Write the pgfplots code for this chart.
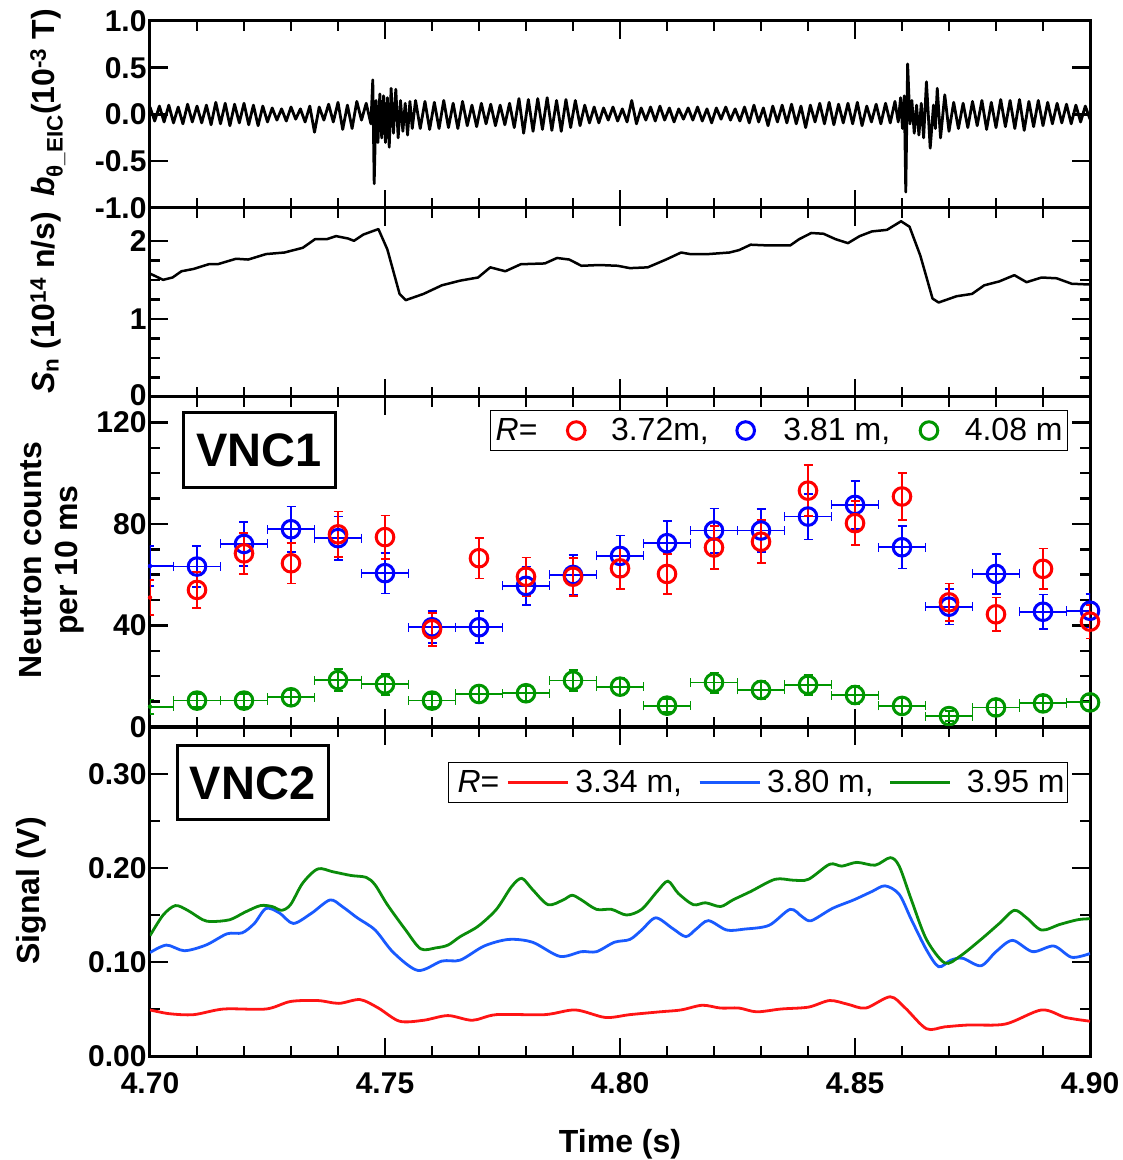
\documentclass[border=0pt]{standalone}
\usepackage{fontspec}
\setmainfont{Liberation Sans}
\usepackage{pgfplots}
\usepackage{pgfplotstable}
\pgfplotsset{compat=1.18}
\definecolor{cRed}{RGB}{255,0,0}
\definecolor{cBlue}{RGB}{0,0,255}
\definecolor{cGreen}{RGB}{0,150,0}
\definecolor{lRed}{RGB}{255,20,20}
\definecolor{lBlue}{RGB}{25,90,255}
\definecolor{lGreen}{RGB}{10,140,10}
\newcommand\lab{\fontsize{32}{38}\selectfont\bfseries}
\newcommand\tlab{\fontsize{30}{30}\selectfont\bfseries}
\pgfplotsset{
  myaxis/.style={
    scale only axis, width=940pt, anchor=south west,
    xmin=4.70, xmax=4.90,
    xtick={4.70,4.75,4.80,4.85,4.90}, minor x tick num=4,
    xticklabels={},
    axis line style={line width=3pt},
    major tick length=18pt, minor tick length=10pt,
    tick style={black, line width=2.5pt},
    tick label style={font=\tlab},
    xticklabel style={yshift=-13pt},
  },
  circleg/.style={legend image code/.code={\draw[##1] plot coordinates {(0pt,0pt)};}},
  lineleg/.style={legend image code/.code={\draw[##1] (0pt,0pt) -- (60pt,0pt);}},
  circmark/.style={only marks, mark=o, mark size=8.8pt, line width=3pt,
    mark options={line width=3pt}},
}
\pgfplotstableread{
x y ey
4.71 54.0 7
4.72 68.4 8
4.73 64.5 8
4.74 75.9 9
4.75 74.8 8.5
4.76 38.5 6.5
4.77 66.5 8
4.78 59.2 7.6
4.79 59.2 7.5
4.80 62.5 8
4.81 60.3 8
4.82 70.7 8.4
4.83 73.0 8.5
4.84 93.1 10
4.85 80.3 8.7
4.86 90.8 9.3
4.87 49.1 7.4
4.88 44.4 6.6
4.89 62.3 8
4.90 41.5 6.6
}\redtab
\pgfplotstableread{
x y ex ey
4.71 63.2 0.005 8
4.72 72.1 0.005 8.7
4.73 77.9 0.005 9
4.74 74.4 0.005 8.5
4.75 60.6 0.005 8
4.76 39.3 0.005 6.3
4.77 39.3 0.005 6.3
4.78 55.6 0.005 7.6
4.79 59.9 0.005 8
4.80 67.4 0.005 8
4.81 72.4 0.005 8.8
4.82 77.4 0.005 8.7
4.83 77.4 0.005 8.5
4.84 82.9 0.005 9
4.85 87.5 0.005 9.4
4.86 70.8 0.005 8.4
4.87 47.4 0.005 7
4.88 60.3 0.005 7.8
4.89 45.4 0.005 6.8
4.90 45.8 0.005 6.6
}\bluetab
\pgfplotstableread{
x y ex ey
4.71 10.4 0.005 2.5
4.72 10.4 0.005 2.5
4.73 11.7 0.005 2.8
4.74 18.5 0.005 4.2
4.75 16.8 0.005 4.1
4.76 10.4 0.005 2.5
4.77 13.0 0.005 3
4.78 13.3 0.005 3
4.79 18.3 0.005 4
4.80 15.9 0.005 3.5
4.81 8.4 0.005 2.5
4.82 17.5 0.005 4
4.83 14.6 0.005 3.7
4.84 16.6 0.005 4
4.85 12.6 0.005 3.5
4.86 8.3 0.005 3
4.87 4.3 0.005 2
4.88 7.7 0.005 3
4.89 9.3 0.005 3
4.90 9.7 0.005 3
}\greentab
\begin{document}
\begin{tikzpicture}
% ---------------- Panel 1 ----------------
\begin{axis}[myaxis, name=p1, at={(0pt,848pt)}, height=187pt,
  ymin=-1, ymax=1, ytick={-1,-0.5,0,0.5,1},
  yticklabels={-1.0,-0.5,0.0,0.5,1.0}]
\addplot[black, line width=2.8pt, line join=round] table {
4.700 0.08
4.701 -0.07
4.702 0.09
4.703 -0.08
4.704 0.10
4.705 -0.09
4.706 0.08
4.707 -0.10
4.708 0.11
4.709 -0.08
4.710 0.09
4.711 -0.09
4.712 0.10
4.713 -0.11
4.714 0.13
4.715 -0.10
4.716 0.12
4.717 -0.12
4.718 0.11
4.719 -0.09
4.720 0.12
4.721 -0.11
4.722 0.10
4.723 -0.12
4.724 0.09
4.725 -0.08
4.726 0.07
4.727 -0.06
4.728 0.06
4.729 -0.07
4.730 0.08
4.731 -0.05
4.732 0.06
4.733 -0.08
4.734 0.09
4.735 -0.19
4.736 0.08
4.737 -0.06
4.738 0.11
4.739 -0.08
4.740 0.13
4.741 -0.16
4.742 0.10
4.743 -0.15
4.744 0.14
4.745 -0.06
4.746 0.12
4.7470 -0.10
4.7474 0.37
4.7477 -0.74
4.7481 0.15
4.7485 -0.30
4.7489 0.22
4.7493 -0.25
4.7497 0.20
4.7501 -0.30
4.7505 0.18
4.7509 -0.35
4.7513 0.28
4.7518 -0.20
4.7523 0.27
4.7528 -0.25
4.7533 0.15
4.7538 -0.18
4.7543 0.12
4.7548 -0.22
4.7553 0.14
4.7558 -0.15
4.7565 0.15
4.7575 -0.15
4.7585 0.14
4.7595 -0.16
4.7605 0.13
4.7615 -0.15
4.7625 0.15
4.7635 -0.14
4.7645 0.12
4.7655 -0.15
4.7665 0.14
4.7675 -0.12
4.7685 0.10
4.7695 -0.13
4.7705 0.12
4.7715 -0.10
4.7725 0.11
4.7735 -0.12
4.7745 0.10
4.7755 -0.11
4.7765 0.12
4.7775 -0.14
4.7785 0.17
4.7795 -0.20
4.7805 0.16
4.7815 -0.18
4.7825 0.17
4.7835 -0.16
4.7845 0.18
4.7855 -0.17
4.7865 0.15
4.7875 -0.18
4.7885 0.16
4.7895 -0.14
4.7905 0.15
4.7915 -0.12
4.7925 0.10
4.7935 -0.09
4.7945 0.08
4.7955 -0.09
4.7965 0.07
4.7975 -0.06
4.7985 0.08
4.7995 -0.07
4.8005 0.06
4.8015 -0.08
4.8025 0.15
4.8035 -0.10
4.8045 0.07
4.8055 -0.06
4.8065 0.08
4.8075 -0.07
4.8085 0.09
4.8095 -0.06
4.8105 0.07
4.8115 -0.08
4.8125 0.06
4.8135 -0.05
4.8145 0.07
4.8155 -0.06
4.8165 0.08
4.8175 -0.07
4.8185 0.06
4.8195 -0.09
4.8205 0.07
4.8215 -0.05
4.8225 0.08
4.8235 -0.06
4.8245 0.06
4.8255 -0.07
4.8265 0.08
4.8275 -0.09
4.8285 0.10
4.8295 -0.08
4.8305 0.07
4.8315 -0.12
4.8325 0.09
4.8335 -0.08
4.8345 0.10
4.8355 -0.09
4.8365 0.11
4.8375 -0.10
4.8385 0.09
4.8395 -0.14
4.8405 0.10
4.8415 -0.08
4.8425 0.12
4.8435 -0.10
4.8445 0.13
4.8455 -0.11
4.8465 0.11
4.8475 -0.09
4.8485 0.12
4.8495 -0.10
4.8505 0.13
4.8515 -0.12
4.8525 0.09
4.8535 -0.08
4.8545 0.11
4.8555 -0.10
4.8565 0.12
4.8575 -0.09
4.8585 0.14
4.8592 -0.08
4.8597 0.18
4.8601 -0.15
4.8605 0.20
4.8608 -0.83
4.8612 0.54
4.8617 -0.10
4.8621 0.15
4.8626 -0.20
4.8631 0.10
4.8636 -0.22
4.8641 0.12
4.8646 -0.25
4.8652 0.35
4.8660 -0.36
4.8667 0.10
4.8671 -0.15
4.8675 0.28
4.8682 -0.25
4.8691 0.21
4.8700 -0.18
4.8710 0.13
4.8720 -0.15
4.8730 0.12
4.8740 -0.14
4.8750 0.14
4.8760 -0.12
4.8770 0.15
4.8780 -0.16
4.8790 0.13
4.8800 -0.14
4.8810 0.16
4.8820 -0.13
4.8830 0.15
4.8840 -0.15
4.8850 0.16
4.8860 -0.17
4.8870 0.14
4.8880 -0.13
4.8890 0.15
4.8900 -0.12
4.8910 0.13
4.8920 -0.10
4.8930 0.12
4.8940 -0.09
4.8950 0.11
4.8960 -0.10
4.8970 0.10
4.8980 -0.08
4.8990 0.09
4.9000 -0.05
};
\end{axis}
% ---------------- Panel 2 ----------------
\begin{axis}[myaxis, name=p2, at={(0pt,659pt)}, height=189pt,
  ymin=0, ymax=2.42, ytick={0,1,2}, yticklabels={\raisebox{4pt}{0},1,2}, minor y tick num=3]
\addplot[black, line width=2.5pt, line join=round] table {
4.7000 1.58
4.7028 1.50
4.7048 1.53
4.7067 1.61
4.7093 1.64
4.7125 1.70
4.7144 1.70
4.7183 1.77
4.7209 1.76
4.7247 1.83
4.7286 1.85
4.7325 1.91
4.7351 2.02
4.7376 2.02
4.7396 2.06
4.7421 2.03
4.7434 2.00
4.7454 2.08
4.7486 2.15
4.7505 1.89
4.7531 1.32
4.7544 1.24
4.7582 1.32
4.7621 1.43
4.7660 1.49
4.7698 1.53
4.7724 1.66
4.7756 1.61
4.7789 1.70
4.7840 1.71
4.7866 1.78
4.7892 1.76
4.7918 1.68
4.7956 1.69
4.7995 1.68
4.8021 1.65
4.8059 1.66
4.8098 1.76
4.8130 1.85
4.8149 1.83
4.8188 1.83
4.8233 1.85
4.8253 1.88
4.8278 1.95
4.8317 1.94
4.8362 1.94
4.8381 2.02
4.8407 2.10
4.8433 2.09
4.8459 2.02
4.8485 1.97
4.8510 2.06
4.8536 2.12
4.8568 2.14
4.8598 2.25
4.8616 2.18
4.8639 1.81
4.8665 1.26
4.8678 1.21
4.8716 1.29
4.8749 1.32
4.8775 1.43
4.8807 1.48
4.8839 1.56
4.8865 1.47
4.8897 1.53
4.8929 1.52
4.8961 1.45
4.9000 1.44
};
\end{axis}
% ---------------- Panel 3 ----------------
\begin{axis}[myaxis, name=p3, at={(0pt,329pt)}, height=330pt,
  ymin=0, ymax=130, ytick={0,40,80,120}, yticklabels={0,40,80,\raisebox{-3pt}{120}}, minor y tick num=3,
  legend columns=-1,
  legend style={at={(0.977,0.961)}, anchor=north east, draw=black, line width=1.5pt,
    fill=white, font=\fontsize{32}{32}\selectfont, inner xsep=5pt, inner ysep=8pt,
    nodes={inner sep=0pt}, column sep=0pt},
  error bars/error bar style={line width=1.8pt},
  error bars/error mark options={line width=1.8pt, mark size=4.5pt, rotate=90}]
\addlegendimage{empty legend}\addlegendentry{\textit{R}=\hspace{30pt}\mbox{}}
\addlegendimage{circleg, cRed, line width=3pt, mark=o, mark size=8.8pt}
\addlegendentry{\hspace{26pt}3.72m,\hspace{28pt}\mbox{}}
\addlegendimage{circleg, cBlue, line width=3pt, mark=o, mark size=8.8pt}
\addlegendentry{\hspace{29pt}3.81 m,\hspace{30pt}\mbox{}}
\addlegendimage{circleg, cGreen, line width=3pt, mark=o, mark size=8.8pt}
\addlegendentry{\hspace{27pt}4.08 m}
% edge points (no marker)
\addplot[cGreen, only marks, mark=none, forget plot,
  error bars/.cd, x dir=both, x explicit, y dir=both, y explicit]
  coordinates {(4.70,8.0) +- (0.005,2.8)};
\addplot[cBlue, only marks, mark=none, forget plot,
  error bars/.cd, x dir=both, x explicit, y dir=both, y explicit]
  coordinates {(4.70,63.4) +- (0.005,8)};
\addplot[cRed, only marks, mark=none, forget plot,
  error bars/.cd, y dir=both, y explicit]
  coordinates {(4.70,51) +- (0,7)};
\addplot[cGreen, circmark, forget plot,
  error bars/.cd, x dir=both, x explicit, y dir=both, y explicit]
  table[x=x, y=y, x error=ex, y error=ey] {\greentab};
\addplot[cBlue, circmark, forget plot,
  error bars/.cd, x dir=both, x explicit, y dir=both, y explicit]
  table[x=x, y=y, x error=ex, y error=ey] {\bluetab};
\addplot[cRed, circmark, forget plot,
  error bars/.cd, y dir=both, y explicit]
  table[x=x, y=y, y error=ey] {\redtab};
\end{axis}
% ---------------- Panel 4 ----------------
\begin{axis}[myaxis, name=p4, at={(0pt,0pt)}, height=329pt,
  ymin=0, ymax=0.35, ytick={0,0.1,0.2,0.3}, yticklabels={0.00,0.10,0.20,0.30},
  minor y tick num=1,
  xticklabels={4.70,4.75,4.80,4.85,4.90},
  legend columns=-1,
  legend style={at={(0.977,0.894)}, anchor=north east, draw=black, line width=1.5pt,
    fill=white, font=\fontsize{32}{32}\selectfont, inner xsep=3pt, inner ysep=8pt,
    nodes={inner sep=0pt}, column sep=0pt}]
\addlegendimage{empty legend}\addlegendentry{\hspace{6pt}\textit{R}=\hspace{7pt}\mbox{}}
\addlegendimage{lineleg, lRed, line width=3pt}
\addlegendentry{\hspace{6pt}3.34 m,\hspace{16pt}\mbox{}}
\addlegendimage{lineleg, lBlue, line width=3pt}
\addlegendentry{\hspace{6pt}3.80 m,\hspace{15pt}\mbox{}}
\addlegendimage{lineleg, lGreen, line width=3pt}
\addlegendentry{\hspace{15pt}3.95 m}
\addplot[lRed, line width=2.8pt, smooth, forget plot] table {
4.7000 0.049
4.7041 0.045
4.7093 0.044
4.7157 0.050
4.7247 0.050
4.7299 0.058
4.7357 0.059
4.7402 0.056
4.7447 0.060
4.7486 0.051
4.7531 0.037
4.7582 0.038
4.7634 0.043
4.7686 0.038
4.7737 0.044
4.7840 0.044
4.7905 0.049
4.7969 0.041
4.8021 0.044
4.8085 0.047
4.8130 0.049
4.8175 0.054
4.8214 0.051
4.8253 0.051
4.8291 0.047
4.8343 0.050
4.8401 0.052
4.8446 0.059
4.8485 0.055
4.8523 0.051
4.8575 0.063
4.8607 0.051
4.8652 0.029
4.8691 0.031
4.8742 0.033
4.8820 0.034
4.8897 0.049
4.8948 0.041
4.9000 0.037
};
\addplot[lBlue, line width=2.8pt, smooth, forget plot] table {
4.7000 0.110
4.7035 0.118
4.7073 0.112
4.7119 0.118
4.7164 0.130
4.7196 0.131
4.7222 0.141
4.7247 0.157
4.7276 0.152
4.7305 0.141
4.7344 0.152
4.7383 0.166
4.7409 0.159
4.7441 0.147
4.7479 0.134
4.7518 0.110
4.7570 0.091
4.7621 0.101
4.7660 0.102
4.7711 0.117
4.7763 0.124
4.7814 0.121
4.7872 0.106
4.7918 0.111
4.7950 0.111
4.7988 0.121
4.8021 0.124
4.8046 0.134
4.8076 0.147
4.8111 0.136
4.8140 0.127
4.8162 0.135
4.8188 0.144
4.8227 0.134
4.8265 0.135
4.8317 0.139
4.8362 0.156
4.8388 0.148
4.8407 0.144
4.8452 0.157
4.8497 0.166
4.8536 0.175
4.8564 0.181
4.8594 0.172
4.8620 0.145
4.8652 0.113
4.8678 0.095
4.8704 0.102
4.8729 0.104
4.8768 0.096
4.8800 0.111
4.8835 0.123
4.8878 0.111
4.8923 0.117
4.8961 0.105
4.9000 0.109
};
\addplot[lGreen, line width=2.8pt, smooth, forget plot] table {
4.7000 0.128
4.7028 0.150
4.7054 0.160
4.7080 0.155
4.7112 0.145
4.7131 0.143
4.7170 0.145
4.7202 0.153
4.7235 0.160
4.7260 0.159
4.7280 0.155
4.7299 0.161
4.7325 0.184
4.7357 0.199
4.7389 0.196
4.7428 0.192
4.7460 0.190
4.7479 0.182
4.7505 0.161
4.7544 0.134
4.7576 0.114
4.7608 0.115
4.7634 0.118
4.7660 0.127
4.7698 0.138
4.7737 0.156
4.7769 0.180
4.7791 0.189
4.7814 0.177
4.7847 0.161
4.7879 0.166
4.7898 0.171
4.7918 0.166
4.7950 0.156
4.7982 0.156
4.8014 0.150
4.8046 0.156
4.8079 0.175
4.8102 0.186
4.8124 0.173
4.8156 0.161
4.8182 0.163
4.8214 0.159
4.8240 0.166
4.8278 0.175
4.8330 0.188
4.8369 0.187
4.8401 0.188
4.8446 0.204
4.8472 0.202
4.8504 0.206
4.8543 0.203
4.8575 0.211
4.8594 0.202
4.8620 0.166
4.8652 0.124
4.8691 0.099
4.8723 0.106
4.8768 0.124
4.8807 0.141
4.8839 0.155
4.8865 0.147
4.8897 0.134
4.8936 0.140
4.8974 0.145
4.9000 0.146
};
\end{axis}
% ---------------- labels and boxes ----------------
\node[rotate=90, anchor=base, font=\lab] at (-95pt,953pt)
  {\textit{b}\textsubscript{θ\_EIC}(10\textsuperscript{-3} T)};
\node[rotate=90, anchor=base, font=\lab] at (-95pt,753pt)
  {\textit{S}\textsubscript{n} (10\textsuperscript{14} n/s)};
\node[rotate=90, anchor=base, font=\lab] at (-108pt,496pt) {Neutron counts};
\node[rotate=90, anchor=base, font=\lab] at (-72pt,496pt) {per 10 ms};
\node[rotate=90, anchor=base, font=\lab] at (-110pt,165pt) {Signal (V)};
\node[anchor=base, font=\lab] at (470pt,-96pt) {Time (s)};
\node[draw=black, line width=3pt, fill=white, minimum width=152pt, minimum height=75pt,
  inner sep=0pt, font=\fontsize{47}{47}\selectfont\bfseries] at (109pt,606pt) {VNC1};
\node[draw=black, line width=3pt, fill=white, minimum width=151pt, minimum height=74pt,
  inner sep=0pt, font=\fontsize{47}{47}\selectfont\bfseries] at (102.5pt,273pt) {VNC2};
\pgfresetboundingbox
\path[use as bounding box] (-150pt,-104pt) rectangle (973pt,1056pt);
\end{tikzpicture}
\end{document}
